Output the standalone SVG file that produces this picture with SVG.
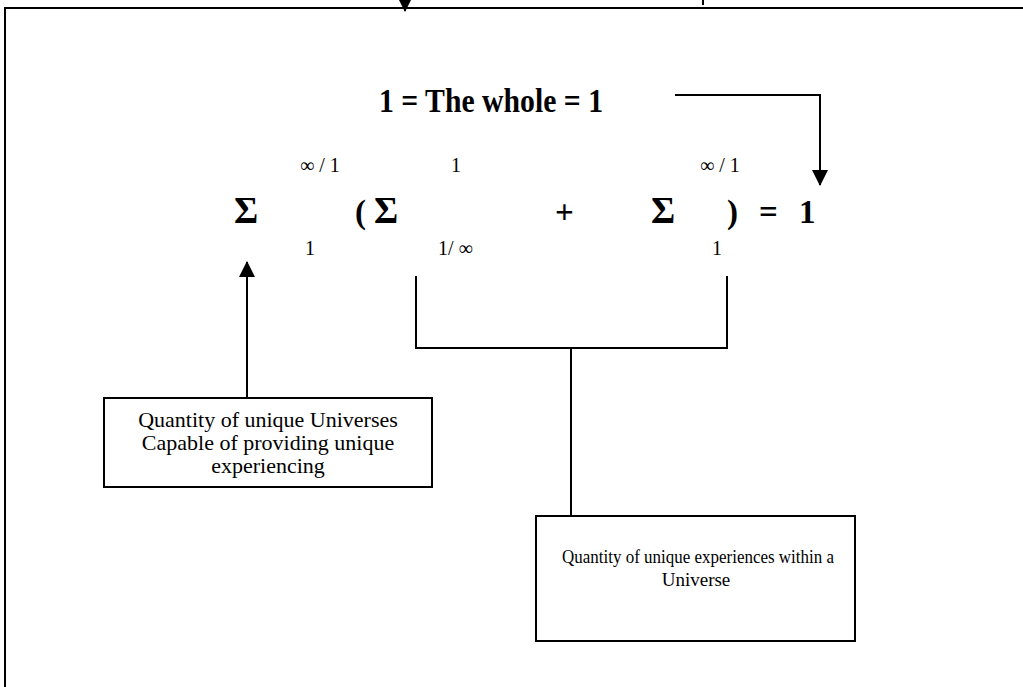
<svg xmlns="http://www.w3.org/2000/svg" width="1023" height="687" viewBox="0 0 1023 687">
<style>
.ln{stroke:#000;stroke-width:2;fill:none}
.box{stroke:#000;stroke-width:2;fill:#fff}
.t{font-family:"Liberation Serif","Times New Roman",serif;fill:#000}
.b{font-weight:bold}
.big{font-size:33px}
.sig{font-size:37px}
.sm{font-size:20px}
.l1{font-size:22px}
.l2{font-size:19px}
</style>
<defs>
<marker id="ahb" viewBox="0 0 16 16" markerWidth="16" markerHeight="16" refX="15" refY="8" orient="auto" markerUnits="userSpaceOnUse"><path d="M0,0 L16,8 L0,16 Z" fill="#000"/></marker>
</defs>
<rect width="1023" height="687" fill="#fff"/>
<g id="frame">
<path class="ln" d="M5,690 V8 H1030"/>
</g>
<g id="connectors">
<line class="ln" x1="405" y1="-5" x2="405" y2="11" marker-end="url(#ahb)"/>
<line class="ln" x1="703" y1="0" x2="703" y2="5"/>
<path class="ln" d="M675,95 H820 V185" marker-end="url(#ahb)"/>
<line class="ln" x1="247" y1="398" x2="247" y2="262" marker-end="url(#ahb)"/>
<path class="ln" d="M416,276 V348 H727 V276"/>
<line class="ln" x1="571" y1="348" x2="571" y2="516"/>
</g>
<g id="title">
<text class="t b big" x="379" y="112" textLength="224" lengthAdjust="spacingAndGlyphs">1 = The whole = 1</text>
</g>
<g id="equation">
<text class="t b sig" x="234" y="223">Σ</text>
<text class="t sm" x="300" y="172">∞ / 1</text>
<text class="t sm" x="305" y="255">1</text>
<text class="t b big" x="355" y="223">(</text>
<text class="t b sig" x="374" y="223">Σ</text>
<text class="t sm" x="451" y="172">1</text>
<text class="t sm" x="438" y="255">1/ ∞</text>
<text class="t b big" x="555" y="223">+</text>
<text class="t b sig" x="651" y="223">Σ</text>
<text class="t sm" x="700" y="172">∞ / 1</text>
<text class="t sm" x="712" y="255">1</text>
<text class="t b big" x="727" y="223">)</text>
<text class="t b big" x="759" y="223">=</text>
<text class="t b big" x="799" y="223">1</text>
</g>
<g id="box1">
<rect class="box" x="104" y="398" width="328" height="89"/>
<text class="t l1" x="268" y="427" text-anchor="middle">Quantity of unique Universes</text>
<text class="t l1" x="268" y="450" text-anchor="middle">Capable of providing unique</text>
<text class="t l1" x="268" y="473" text-anchor="middle">experiencing</text>
</g>
<g id="box2">
<rect class="box" x="536" y="516" width="319" height="125"/>
<text class="t l2" x="562" y="563" textLength="272" lengthAdjust="spacingAndGlyphs">Quantity of unique experiences within a</text>
<text class="t l2" x="696" y="586" text-anchor="middle">Universe</text>
</g>
</svg>
